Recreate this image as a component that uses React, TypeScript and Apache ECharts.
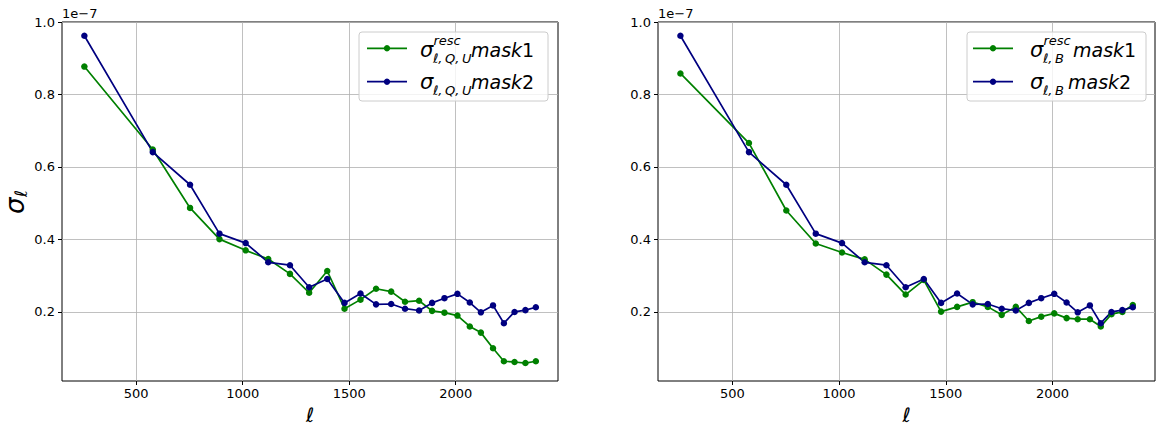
import React, { useEffect, useRef } from 'react';
import * as echarts from 'echarts';

// multipole centres ℓ
const ell = [257, 578, 753, 891, 1014, 1120, 1222, 1312, 1397, 1478, 1553, 1626, 1697, 1762, 1828, 1889, 1947, 2008, 2066, 2118, 2175, 2226, 2276, 2327, 2376];
// values in units of 1e-7
const leftResc = [0.877, 0.648, 0.487, 0.401, 0.370, 0.346, 0.305, 0.253, 0.313, 0.209, 0.234, 0.264, 0.256, 0.228, 0.231, 0.203, 0.198, 0.190, 0.160, 0.143, 0.100, 0.064, 0.062, 0.059, 0.064];
const mask2 = [0.962, 0.641, 0.551, 0.416, 0.390, 0.337, 0.329, 0.268, 0.291, 0.225, 0.251, 0.221, 0.222, 0.209, 0.204, 0.225, 0.238, 0.250, 0.226, 0.199, 0.218, 0.169, 0.200, 0.205, 0.213];
const rightResc = [0.858, 0.666, 0.480, 0.389, 0.364, 0.345, 0.303, 0.248, 0.288, 0.201, 0.214, 0.227, 0.214, 0.192, 0.214, 0.175, 0.187, 0.196, 0.183, 0.180, 0.180, 0.160, 0.194, 0.200, 0.219];
const xTicks = [500, 1000, 1500, 2000];
const yTicks = [0.2, 0.4, 0.6, 0.8, 1.0];

const GREEN = '#008000';
const NAVY = '#000080';
const FONT = 'DejaVu Sans';

function pairs(ys: number[]) {
  return ell.map((x, i) => [x, ys[i]]);
}

function xAxis(gridIndex: number) {
  return {
    type: 'value', gridIndex, min: 152, max: 2480,
    axisLine: { show: false },
    axisTick: { show: true, customValues: xTicks, length: 4, lineStyle: { color: '#000', width: 1 } },
    axisLabel: { customValues: xTicks, fontSize: 13, color: '#000', fontFamily: FONT, margin: 6, formatter: (v: number) => String(v) },
    splitLine: { show: true, lineStyle: { color: '#b0b0b0', width: 0.8 } },
    name: 'ℓ', nameLocation: 'middle', nameGap: 24,
    nameTextStyle: { fontSize: 20, fontStyle: 'italic', fontFamily: FONT, color: '#000' },
  };
}

function yAxis(gridIndex: number) {
  return {
    type: 'value', gridIndex, min: 0.0095, max: 1.0,
    axisLine: { show: false },
    axisTick: { show: true, customValues: yTicks, length: 4, lineStyle: { color: '#000', width: 1 } },
    axisLabel: { customValues: yTicks, fontSize: 13, color: '#000', fontFamily: FONT, margin: 7, formatter: (v: number) => v.toFixed(1) },
    splitLine: { show: true, lineStyle: { color: '#b0b0b0', width: 0.8 } },
  };
}

function series(name: string, ys: number[], color: string, idx: number) {
  return {
    type: 'line', name, xAxisIndex: idx, yAxisIndex: idx, data: pairs(ys),
    symbol: 'circle', symbolSize: 6.5, showSymbol: true,
    lineStyle: { color, width: 1.7 }, itemStyle: { color },
    emphasis: { disabled: true },
  };
}

const txt = (text: string, x: number, y: number, fontSize: number, italic = true, extra: any = {}) => ({
  type: 'text', silent: true, z: 100,
  style: { text, x, y, fontSize, fontFamily: FONT, fontStyle: italic ? 'italic' : 'normal', fill: '#000', align: 'left', verticalAlign: 'middle', ...extra },
});

const maskTxt = (n: string, x: number, y: number) => ({
  type: 'text', silent: true, z: 100,
  style: {
    text: `{i|mask}{r|${n}}`, x, y, align: 'left', verticalAlign: 'middle',
    rich: {
      i: { fontSize: 19, fontFamily: FONT, fontStyle: 'italic', fill: '#000', color: '#000' },
      r: { fontSize: 19, fontFamily: FONT, fontStyle: 'normal', fill: '#000', color: '#000' },
    },
  },
});

function legend(bx: number, bw: number, lineX: number, sigX: number, sub: string, mask1X: number, mask2X: number) {
  const r1 = 48.3, r2 = 81.7;
  const els: any[] = [
    { type: 'rect', z: 90, silent: true, shape: { x: bx, y: 32, width: bw, height: 69, r: 3 }, style: { fill: 'rgba(255,255,255,0.8)', stroke: '#cccccc', lineWidth: 1 } },
    { type: 'line', z: 95, silent: true, shape: { x1: lineX, y1: r1, x2: lineX + 40, y2: r1 }, style: { stroke: GREEN, lineWidth: 1.7 } },
    { type: 'circle', z: 96, silent: true, shape: { cx: lineX + 20, cy: r1, r: 3.2 }, style: { fill: GREEN } },
    { type: 'line', z: 95, silent: true, shape: { x1: lineX, y1: r2, x2: lineX + 40, y2: r2 }, style: { stroke: NAVY, lineWidth: 1.7 } },
    { type: 'circle', z: 96, silent: true, shape: { cx: lineX + 20, cy: r2, r: 3.2 }, style: { fill: NAVY } },
    txt('σ', sigX, 50, 21),
    txt('resc', sigX + 13.5, 40, 13),
    txt(sub, sigX + 13, 58.5, 13),
    maskTxt('1', mask1X, 50),
    txt('σ', sigX, 82, 21),
    txt(sub, sigX + 13, 90.5, 13),
    maskTxt('2', mask2X, 82),
  ];
  return els;
}

export default function App() {
  const ref = useRef<HTMLDivElement>(null);
  useEffect(() => {
    document.body.style.margin = '0';
    const chart = echarts.init(ref.current!, null, { renderer: 'svg' });
    chart.setOption({
      animation: false,
      backgroundColor: '#fff',
      grid: [
        { left: 62, top: 22, width: 496, height: 362, show: true, borderColor: '#000', borderWidth: 1, backgroundColor: 'transparent' },
        { left: 658, top: 22, width: 497, height: 362, show: true, borderColor: '#000', borderWidth: 1, backgroundColor: 'transparent' },
      ],
      xAxis: [xAxis(0), xAxis(1)],
      yAxis: [yAxis(0), yAxis(1)],
      series: [
        series('resc mask1 QU', leftResc, GREEN, 0),
        series('mask2 QU', mask2, NAVY, 0),
        series('resc mask1 B', rightResc, GREEN, 1),
        series('mask2 B', mask2, NAVY, 1),
      ],
      graphic: [
        txt('1e−7', 62, 13, 13, false),
        txt('1e−7', 658, 13, 13, false),
        {
          type: 'group', x: 15, y: 214, rotation: Math.PI / 2, silent: true,
          children: [
            txt('σ', 0, 0, 26),
            txt('ℓ', 17, 6, 17),
          ],
        },
        ...legend(359, 189, 367, 420, 'ℓ,\u2009Q,\u2009U', 471, 471),
        ...legend(967, 179, 973, 1030, 'ℓ,\u2009B', 1073, 1068),
      ],
    });
    return () => chart.dispose();
  }, []);
  return <div ref={ref} style={{ width: 1159, height: 430 }} />;
}
